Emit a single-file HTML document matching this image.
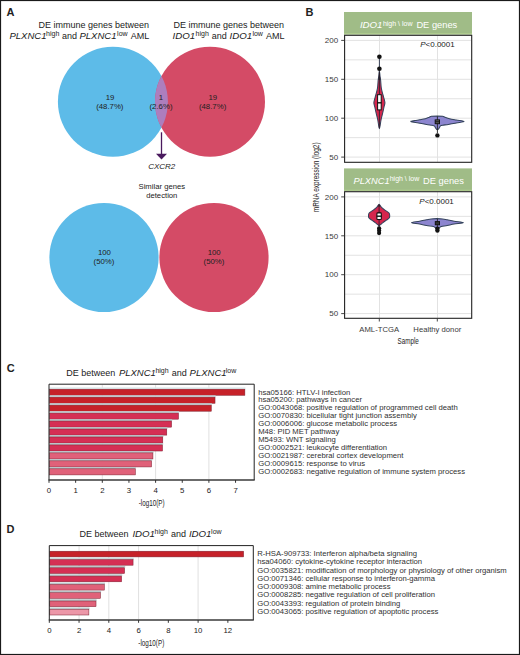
<!DOCTYPE html>
<html><head><meta charset="utf-8">
<style>
html,body{margin:0;padding:0;background:#fff;}
body{width:520px;height:655px;overflow:hidden;}
svg{display:block;font-family:"Liberation Sans",sans-serif;}
.t{fill:#222;}
.g{fill:#3a3a3a;}
.i{font-style:italic;}
.b{font-weight:bold;}
</style></head><body>
<svg width="520" height="655" viewBox="0 0 520 655">
<defs>
<clipPath id="cb1"><circle cx="112.9" cy="101.8" r="55"/></clipPath>
</defs>
<rect x="0" y="0" width="520" height="655" fill="#fff"/>
<!-- ============ PANEL A ============ -->
<text x="6.5" y="16.2" class="t b" font-size="11">A</text>
<g class="t" font-size="9">
  <text x="149" y="27.5" text-anchor="end">DE immune genes between</text>
  <text y="38.6"><tspan x="9.5" class="i" font-size="9.5">PLXNC1</tspan><tspan x="46.1" y="35.7" font-size="7">high</tspan><tspan x="62.1" y="38.6">and</tspan><tspan x="79.5" class="i" font-size="9.5">PLXNC1</tspan><tspan x="117.1" y="35.7" font-size="7">low</tspan><tspan x="130.8" y="38.6">AML</tspan></text>
  <text x="173.5" y="27.5">DE immune genes between</text>
  <text y="38.6"><tspan x="172.6" class="i" font-size="9.7">IDO1</tspan><tspan x="195.6" y="35.7" font-size="7">high</tspan><tspan x="211.7" y="38.6">and</tspan><tspan x="229.5" class="i" font-size="9.7">IDO1</tspan><tspan x="252.4" y="35.7" font-size="7">low</tspan><tspan x="266" y="38.6">AML</tspan></text>
</g>
<circle cx="112.9" cy="101.8" r="55" fill="#5dbbe8"/>
<circle cx="210" cy="101.8" r="55" fill="#d44b66"/>
<circle cx="210" cy="101.8" r="55" fill="#ad7ebd" clip-path="url(#cb1)"/>
<g class="t" font-size="7.8" text-anchor="middle">
  <text x="110" y="99.6">19</text><text x="109.8" y="108.8">(48.7%)</text>
  <text x="161" y="99.6">1</text><text x="161" y="108.8">(2.6%)</text>
  <text x="212.8" y="99.6">19</text><text x="212.6" y="108.8">(48.7%)</text>
</g>
<line x1="161.5" y1="132.3" x2="161.5" y2="155" stroke="#4a1a5e" stroke-width="1.3"/>
<polygon points="156,153.8 167,153.8 161.5,159.4" fill="#4a1a5e"/>
<text x="161.7" y="169.2" class="t i" font-size="8" text-anchor="middle">CXCR2</text>
<g class="t" font-size="7.7" text-anchor="middle">
  <text x="161.8" y="188.5">Similar genes</text>
  <text x="161.8" y="197.9">detection</text>
</g>
<circle cx="104" cy="257.5" r="54.6" fill="#5dbbe8"/>
<circle cx="214" cy="257.5" r="54.6" fill="#d44b66"/>
<g class="t" font-size="7.8" text-anchor="middle">
  <text x="104.4" y="254.8">100</text><text x="104" y="264.3">(50%)</text>
  <text x="214.2" y="254.8">100</text><text x="214" y="264.3">(50%)</text>
</g>

<!-- ============ PANEL B ============ -->
<text x="305.5" y="16.3" class="t b" font-size="11">B</text>
<!-- strip 1 -->
<rect x="344" y="12" width="128" height="22.6" fill="#a0bc87"/><rect x="344" y="33.1" width="128" height="1" fill="#b0cc8e"/>
<text y="28.4" fill="#fff" font-size="9.3"><tspan x="359.9" class="i" font-size="9.7">IDO1</tspan><tspan x="382.9" y="25.5" font-size="7">high \ low</tspan><tspan x="416.4" y="28.4">DE genes</tspan></text>
<!-- panel 1 -->
<g stroke="#e2e2e2" stroke-width="1">
  <line x1="345" x2="471" y1="40.4" y2="40.4"/><line x1="345" x2="471" y1="59.85" y2="59.85"/>
  <line x1="345" x2="471" y1="79.3" y2="79.3"/><line x1="345" x2="471" y1="98.75" y2="98.75"/>
  <line x1="345" x2="471" y1="118.2" y2="118.2"/><line x1="345" x2="471" y1="137.65" y2="137.65"/>
  <line x1="345" x2="471" y1="157.1" y2="157.1"/>
  <line x1="379.5" x2="379.5" y1="35.5" y2="162"/><line x1="437.5" x2="437.5" y1="35.5" y2="162"/>
</g>
<rect x="344.6" y="35.3" width="127.1" height="127" fill="none" stroke="#222" stroke-width="1.1"/>
<g stroke="#333" stroke-width="0.9">
  <line x1="341.2" x2="344" y1="40.4" y2="40.4"/><line x1="341.2" x2="344" y1="79.3" y2="79.3"/>
  <line x1="341.2" x2="344" y1="118.2" y2="118.2"/><line x1="341.2" x2="344" y1="157.1" y2="157.1"/>
</g>
<g class="g" font-size="8" text-anchor="end">
  <text x="338.2" y="43.1">200</text><text x="338.2" y="82">150</text><text x="338.2" y="120.9">100</text><text x="338.2" y="159.8">50</text>
</g>
<text x="420.2" y="47.3" class="t" font-size="8"><tspan class="i">P</tspan>&lt;0.0001</text>
<!-- red violin 1 -->
<line x1="379.4" y1="57" x2="379.4" y2="72" stroke="#3a4258" stroke-width="1"/>
<path d="M379.4,70.5 C379.6,70.5 379.8,74.42 380,76 C380.2,77.58 380.38,77.97 380.6,80 C380.82,82.03 380.9,85.7 381.3,88.2 C381.7,90.7 382.4,92.65 383,95 C383.6,97.35 384.73,100.3 384.9,102.3 C385.07,104.3 384.38,105.15 384,107 C383.62,108.85 383.1,111.23 382.6,113.4 C382.1,115.57 381.53,117.47 381,120 C380.47,122.53 379.93,128.6 379.4,128.6 C378.87,128.6 378.33,122.53 377.8,120 C377.27,117.47 376.7,115.57 376.2,113.4 C375.7,111.23 375.18,108.85 374.8,107 C374.42,105.15 373.73,104.3 373.9,102.3 C374.07,100.3 375.2,97.35 375.8,95 C376.4,92.65 377.1,90.7 377.5,88.2 C377.9,85.7 377.98,82.03 378.2,80 C378.42,77.97 378.6,77.58 378.8,76 C379,74.42 379.2,70.5 379.4,70.5 Z" fill="#d6264d" stroke="#34435c" stroke-width="1.05"/>
<path d="M379.4,70.5 L380.29999999999995,80 L378.5,80 Z" fill="#222"/>
<line x1="379.4" y1="72" x2="379.4" y2="128.3" stroke="#2a1f2c" stroke-width="0.9"/>
<rect x="377.6" y="94.7" width="3.6" height="15.2" fill="#fff" stroke="#111" stroke-width="1"/>
<line x1="377.4" x2="381.4" y1="102.8" y2="102.8" stroke="#111" stroke-width="1.4"/>
<circle cx="379.4" cy="56.8" r="2.3" fill="#111"/><circle cx="379.4" cy="68.8" r="2.3" fill="#111"/>
<path d="M410.9,121.5 C410.33,121.12 413.57,120.88 415,120.6 C416.43,120.32 417.78,120.12 419.5,119.8 C421.22,119.48 423.67,119.13 425.3,118.7 C426.93,118.27 428.27,117.6 429.3,117.2 C430.33,116.8 430.15,116.48 431.5,116.3 C432.85,116.12 435.55,116.1 437.4,116.1 C439.25,116.1 441.35,116.12 442.6,116.3 C443.85,116.48 443.75,116.8 444.9,117.2 C446.05,117.6 447.58,118.22 449.5,118.7 C451.42,119.18 453.98,119.63 456.4,120.1 C458.82,120.57 464,121.03 464,121.5 C464,121.97 459,122.42 456.4,122.9 C453.8,123.38 450.7,124.02 448.4,124.4 C446.1,124.78 443.93,124.95 442.6,125.2 C441.27,125.45 440.9,125.55 440.4,125.9 C439.9,126.25 439.9,126.8 439.6,127.3 C439.3,127.8 438.97,128.52 438.6,128.9 C438.23,129.28 437.8,129.6 437.4,129.6 C437,129.6 436.57,129.28 436.2,128.9 C435.83,128.52 435.5,127.8 435.2,127.3 C434.9,126.8 434.9,126.23 434.4,125.9 C433.9,125.57 433.52,125.55 432.2,125.3 C430.88,125.05 428.8,124.8 426.5,124.4 C424.2,124 421,123.38 418.4,122.9 C415.8,122.42 411.47,121.88 410.9,121.5 Z" fill="#8c85cf" stroke="#34435c" stroke-width="1.05"/>
<line x1="437.4" y1="116.4" x2="437.4" y2="133" stroke="#222" stroke-width="0.9"/>
<rect x="435.2" y="119.9" width="4.3" height="3.8" fill="#666" stroke="#111" stroke-width="1"/>
<line x1="435.2" x2="439.5" y1="121.8" y2="121.8" stroke="#111" stroke-width="1"/>
<circle cx="437.4" cy="135.4" r="2.2" fill="#111"/>
<!-- strip 2 -->
<rect x="344" y="168.4" width="128" height="22.7" fill="#a0bc87"/><rect x="344" y="189.7" width="128" height="1" fill="#b0cc8e"/>
<text y="184.3" fill="#fff" font-size="9.3"><tspan x="353.5" class="i">PLXNC1</tspan><tspan x="389.7" y="181.2" font-size="7">high \ low</tspan><tspan x="423.1" y="184.3">DE genes</tspan></text>
<!-- panel 2 -->
<g stroke="#e2e2e2" stroke-width="1">
  <line x1="345" x2="471" y1="196.9" y2="196.9"/><line x1="345" x2="471" y1="216.35" y2="216.35"/>
  <line x1="345" x2="471" y1="235.8" y2="235.8"/><line x1="345" x2="471" y1="255.25" y2="255.25"/>
  <line x1="345" x2="471" y1="274.7" y2="274.7"/><line x1="345" x2="471" y1="294.15" y2="294.15"/>
  <line x1="345" x2="471" y1="313.6" y2="313.6"/>
  <line x1="379.5" x2="379.5" y1="192" y2="318"/><line x1="437.5" x2="437.5" y1="192" y2="318"/>
</g>
<rect x="344.6" y="191.7" width="127.1" height="126.6" fill="none" stroke="#222" stroke-width="1.1"/>
<g stroke="#333" stroke-width="0.9">
  <line x1="341.2" x2="344" y1="196.9" y2="196.9"/><line x1="341.2" x2="344" y1="235.8" y2="235.8"/>
  <line x1="341.2" x2="344" y1="274.7" y2="274.7"/><line x1="341.2" x2="344" y1="313.6" y2="313.6"/>
  <line x1="379.3" x2="379.3" y1="318.5" y2="321.5"/><line x1="437.3" x2="437.3" y1="318.5" y2="321.5"/>
</g>
<g class="g" font-size="8" text-anchor="end">
  <text x="338.2" y="199.6">200</text><text x="338.2" y="238.5">150</text><text x="338.2" y="277.4">100</text><text x="338.2" y="316.3">50</text>
</g>
<text x="419.3" y="204.4" class="t" font-size="8"><tspan class="i">P</tspan>&lt;0.0001</text>
<!-- red violin 2 -->
<path d="M379.1,204.3 C379.83,204.3 380.45,206.32 381.3,207.2 C382.15,208.08 383.17,208.83 384.2,209.6 C385.23,210.37 386.65,211.17 387.5,211.8 C388.35,212.43 388.93,212.73 389.3,213.4 C389.67,214.07 389.72,215.03 389.7,215.8 C389.68,216.57 389.77,217.27 389.2,218 C388.63,218.73 387.33,219.43 386.3,220.2 C385.27,220.97 383.98,221.85 383,222.6 C382.02,223.35 381.05,224.18 380.4,224.7 C379.75,225.22 379.53,225.7 379.1,225.7 C378.67,225.7 378.45,225.22 377.8,224.7 C377.15,224.18 376.18,223.35 375.2,222.6 C374.22,221.85 372.93,220.97 371.9,220.2 C370.87,219.43 369.57,218.73 369,218 C368.43,217.27 368.52,216.57 368.5,215.8 C368.48,215.03 368.53,214.07 368.9,213.4 C369.27,212.73 369.85,212.43 370.7,211.8 C371.55,211.17 372.97,210.37 374,209.6 C375.03,208.83 376.05,208.08 376.9,207.2 C377.75,206.32 378.37,204.3 379.1,204.3 Z" fill="#d6264d" stroke="#34435c" stroke-width="1.05"/>
<path d="M379.1,204.3 L380.3,206.5 L377.90000000000003,206.5 Z" fill="#222"/>
<line x1="379.1" y1="205" x2="379.1" y2="231" stroke="#2a1f2c" stroke-width="0.9"/>
<rect x="376.9" y="212.9" width="4.4" height="6.6" rx="0.8" fill="#fff" stroke="#111" stroke-width="1.1"/>
<line x1="376.7" x2="381.5" y1="216.2" y2="216.2" stroke="#111" stroke-width="1.4"/>
<circle cx="379.1" cy="228.3" r="2.1" fill="#111"/>
<circle cx="379.1" cy="230.6" r="2.1" fill="#111"/>
<circle cx="379.1" cy="233.1" r="2.1" fill="#111"/>
<path d="M411.5,222.7 C411.5,222.23 417,221.78 419.5,221.3 C422,220.82 424.57,220.2 426.5,219.8 C428.43,219.4 429.38,219.1 431.1,218.9 C432.82,218.7 434.88,218.6 436.8,218.6 C438.72,218.6 440.87,218.7 442.6,218.9 C444.33,219.1 445.28,219.4 447.2,219.8 C449.12,220.2 451.4,220.82 454.1,221.3 C456.8,221.78 463.4,222.23 463.4,222.7 C463.4,223.17 456.8,223.62 454.1,224.1 C451.4,224.58 449.32,225.18 447.2,225.6 C445.08,226.02 442.72,226.23 441.4,226.6 C440.08,226.97 439.97,227.43 439.3,227.8 C438.63,228.17 438.03,228.8 437.4,228.8 C436.77,228.8 436.17,228.2 435.5,227.8 C434.83,227.4 434.9,226.77 433.4,226.4 C431.9,226.03 428.82,225.98 426.5,225.6 C424.18,225.22 422,224.58 419.5,224.1 C417,223.62 411.5,223.17 411.5,222.7 Z" fill="#8c85cf" stroke="#34435c" stroke-width="1.05"/>
<line x1="437.4" y1="218.8" x2="437.4" y2="229" stroke="#222" stroke-width="0.9"/>
<rect x="435.3" y="221.6" width="4.2" height="3.2" fill="#333" stroke="#111" stroke-width="1"/>
<circle cx="437.4" cy="228.6" r="2.2" fill="#111"/>
<circle cx="437.4" cy="230.6" r="2.2" fill="#111"/>
<!-- axis labels -->
<g class="g" font-size="7.7" text-anchor="middle">
  <text x="379.2" y="331.7">AML-TCGA</text><text x="437.3" y="331.7">Healthy donor</text>
</g>
<text x="0" y="0" class="t" font-size="9.5" text-anchor="middle" transform="translate(408.2 344.3) scale(0.66 1)">Sample</text>
<text x="0" y="0" class="t" font-size="9.2" text-anchor="middle" transform="translate(318.9 177.3) rotate(-90) scale(0.70 1)">mRNA expression (log2)</text>

<!-- ============ PANEL C ============ -->
<text x="6.8" y="372" class="t b" font-size="11">C</text>
<text y="375.8" class="t" font-size="9"><tspan x="66.3">DE between</tspan><tspan x="118.9" class="i" font-size="9.5">PLXNC1</tspan><tspan x="155.4" y="372.8" font-size="7">high</tspan><tspan x="171.8" y="375.8">and</tspan><tspan x="189.6" class="i" font-size="9.5">PLXNC1</tspan><tspan x="225.8" y="372.8" font-size="7">low</tspan></text>
<g><line x1="102.3" x2="102.3" y1="384.7" y2="479.3" stroke="#dcdcdc" stroke-width="0.9"/>
<line x1="155.6" x2="155.6" y1="384.7" y2="479.3" stroke="#dcdcdc" stroke-width="0.9"/>
<line x1="208.9" x2="208.9" y1="384.7" y2="479.3" stroke="#dcdcdc" stroke-width="0.9"/>
<rect x="49.5" y="387.4" width="195.98" height="1.8" fill="#dce8ea"/>
<rect x="49.5" y="389.2" width="195.38" height="6.1" fill="#c62129" stroke="#7a2030" stroke-width="0.5"/>
<rect x="49.5" y="395.36" width="166.13" height="1.8" fill="#c9dadd"/>
<rect x="49.5" y="397.16" width="165.53" height="6.1" fill="#c62129" stroke="#7a2030" stroke-width="0.5"/>
<rect x="49.5" y="403.32" width="162.4" height="1.8" fill="#c9dadd"/>
<rect x="49.5" y="405.12" width="161.8" height="6.1" fill="#c62129" stroke="#7a2030" stroke-width="0.5"/>
<rect x="49.5" y="411.28" width="129.62" height="1.8" fill="#c9dadd"/>
<rect x="49.5" y="413.08" width="129.02" height="6.1" fill="#d52f54" stroke="#7a2030" stroke-width="0.5"/>
<rect x="49.5" y="419.24" width="122.69" height="1.8" fill="#bac6ca"/>
<rect x="49.5" y="421.04" width="122.09" height="6.1" fill="#d52f54" stroke="#7a2030" stroke-width="0.5"/>
<rect x="49.5" y="427.2" width="117.89" height="1.8" fill="#bac6ca"/>
<rect x="49.5" y="429" width="117.29" height="6.1" fill="#d52f54" stroke="#7a2030" stroke-width="0.5"/>
<rect x="49.5" y="435.16" width="113.9" height="1.8" fill="#bac6ca"/>
<rect x="49.5" y="436.96" width="113.3" height="6.1" fill="#d52f54" stroke="#7a2030" stroke-width="0.5"/>
<rect x="49.5" y="443.12" width="113.63" height="1.8" fill="#bac6ca"/>
<rect x="49.5" y="444.92" width="113.03" height="6.1" fill="#d52f54" stroke="#7a2030" stroke-width="0.5"/>
<rect x="49.5" y="451.08" width="104.03" height="1.8" fill="#bac6ca"/>
<rect x="49.5" y="452.88" width="103.44" height="6.1" fill="#e06179" stroke="#7a2030" stroke-width="0.5"/>
<rect x="49.5" y="459.04" width="102.7" height="1.8" fill="#bac6ca"/>
<rect x="49.5" y="460.84" width="102.1" height="6.1" fill="#e06179" stroke="#7a2030" stroke-width="0.5"/>
<rect x="49.5" y="467" width="86.45" height="1.8" fill="#bac6ca"/>
<rect x="49.5" y="468.8" width="85.85" height="6.1" fill="#e06179" stroke="#7a2030" stroke-width="0.5"/>
<path d="M49,480 V384.2 H254.2 V480" fill="none" stroke="#222" stroke-width="1"/>
<line x1="48.5" x2="254.7" y1="480" y2="480" stroke="#3a3a3a" stroke-width="1.5"/>
<line x1="49" x2="49" y1="480" y2="482.8" stroke="#333" stroke-width="1"/>
<text x="49" y="493" class="t" font-size="7.8" text-anchor="middle">0</text>
<line x1="75.65" x2="75.65" y1="480" y2="482.8" stroke="#333" stroke-width="1"/>
<text x="75.65" y="493" class="t" font-size="7.8" text-anchor="middle">1</text>
<line x1="102.3" x2="102.3" y1="480" y2="482.8" stroke="#333" stroke-width="1"/>
<text x="102.3" y="493" class="t" font-size="7.8" text-anchor="middle">2</text>
<line x1="128.95" x2="128.95" y1="480" y2="482.8" stroke="#333" stroke-width="1"/>
<text x="128.95" y="493" class="t" font-size="7.8" text-anchor="middle">3</text>
<line x1="155.6" x2="155.6" y1="480" y2="482.8" stroke="#333" stroke-width="1"/>
<text x="155.6" y="493" class="t" font-size="7.8" text-anchor="middle">4</text>
<line x1="182.25" x2="182.25" y1="480" y2="482.8" stroke="#333" stroke-width="1"/>
<text x="182.25" y="493" class="t" font-size="7.8" text-anchor="middle">5</text>
<line x1="208.9" x2="208.9" y1="480" y2="482.8" stroke="#333" stroke-width="1"/>
<text x="208.9" y="493" class="t" font-size="7.8" text-anchor="middle">6</text>
<line x1="235.55" x2="235.55" y1="480" y2="482.8" stroke="#333" stroke-width="1"/>
<text x="235.55" y="493" class="t" font-size="7.8" text-anchor="middle">7</text>
<text x="0" y="0" class="t" font-size="9" text-anchor="middle" transform="translate(151.6 505.8) scale(0.7 1)">-log10(P)</text>
<text x="258.2" y="394.5" fill="#303030" font-size="7.7">hsa05166: HTLV-I infection</text>
<text x="258.2" y="402.46" fill="#303030" font-size="7.7">hsa05200: pathways in cancer</text>
<text x="258.2" y="410.42" fill="#303030" font-size="7.7">GO:0043068: positive regulation of programmed cell death</text>
<text x="258.2" y="418.38" fill="#303030" font-size="7.7">GO:0070830: bicellular tight junction assembly</text>
<text x="258.2" y="426.34" fill="#303030" font-size="7.7">GO:0006006: glucose metabolic process</text>
<text x="258.2" y="434.3" fill="#303030" font-size="7.7">M48: PID MET pathway</text>
<text x="258.2" y="442.26" fill="#303030" font-size="7.7">M5493: WNT signaling</text>
<text x="258.2" y="450.22" fill="#303030" font-size="7.7">GO:0002521: leukocyte differentiation</text>
<text x="258.2" y="458.18" fill="#303030" font-size="7.7">GO:0021987: cerebral cortex development</text>
<text x="258.2" y="466.14" fill="#303030" font-size="7.7">GO:0009615: response to virus</text>
<text x="258.2" y="474.1" fill="#303030" font-size="7.7">GO:0002683: negative regulation of immune system process</text></g>
<!-- ============ PANEL D ============ -->
<text x="6.5" y="533" class="t b" font-size="11">D</text>
<text y="536.7" class="t" font-size="9"><tspan x="79.4">DE between</tspan><tspan x="132.4" class="i" font-size="9.7">IDO1</tspan><tspan x="154.6" y="533.7" font-size="7">high</tspan><tspan x="171.1" y="536.7">and</tspan><tspan x="188.9" class="i" font-size="9.7">IDO1</tspan><tspan x="211.1" y="533.7" font-size="7">low</tspan></text>
<g><line x1="79.06" x2="79.06" y1="546.1" y2="619.3" stroke="#dcdcdc" stroke-width="0.9"/>
<line x1="108.82" x2="108.82" y1="546.1" y2="619.3" stroke="#dcdcdc" stroke-width="0.9"/>
<line x1="138.58" x2="138.58" y1="546.1" y2="619.3" stroke="#dcdcdc" stroke-width="0.9"/>
<line x1="198.1" x2="198.1" y1="546.1" y2="619.3" stroke="#dcdcdc" stroke-width="0.9"/>
<rect x="49.8" y="551.2" width="193.83" height="5.7" fill="#c62129" stroke="#7a2030" stroke-width="0.5"/>
<rect x="49.8" y="557.7" width="83.87" height="1.8" fill="#c9dadd"/>
<rect x="49.8" y="559.5" width="83.27" height="5.7" fill="#d52f54" stroke="#7a2030" stroke-width="0.5"/>
<rect x="49.8" y="566" width="75.39" height="1.8" fill="#bac6ca"/>
<rect x="49.8" y="567.8" width="74.79" height="5.7" fill="#d52f54" stroke="#7a2030" stroke-width="0.5"/>
<rect x="49.8" y="574.3" width="72.42" height="1.8" fill="#bac6ca"/>
<rect x="49.8" y="576.1" width="71.82" height="5.7" fill="#d52f54" stroke="#7a2030" stroke-width="0.5"/>
<rect x="49.8" y="582.6" width="55.16" height="1.8" fill="#bac6ca"/>
<rect x="49.8" y="584.4" width="54.56" height="5.7" fill="#e06179" stroke="#7a2030" stroke-width="0.5"/>
<rect x="49.8" y="590.9" width="51.29" height="1.8" fill="#bac6ca"/>
<rect x="49.8" y="592.7" width="50.69" height="5.7" fill="#e06179" stroke="#7a2030" stroke-width="0.5"/>
<rect x="49.8" y="599.2" width="46.82" height="1.8" fill="#bac6ca"/>
<rect x="49.8" y="601" width="46.22" height="5.7" fill="#e06179" stroke="#7a2030" stroke-width="0.5"/>
<rect x="49.8" y="607.5" width="39.68" height="1.8" fill="#bac6ca"/>
<rect x="49.8" y="609.3" width="39.08" height="5.7" fill="#ec97a8" stroke="#7a2030" stroke-width="0.5"/>
<path d="M49.3,620 V545.6 H253.3 V620" fill="none" stroke="#222" stroke-width="1"/>
<line x1="48.8" x2="253.8" y1="620" y2="620" stroke="#3a3a3a" stroke-width="1.5"/>
<line x1="49.3" x2="49.3" y1="620" y2="622.8" stroke="#333" stroke-width="1"/>
<text x="49.3" y="633" class="t" font-size="7.8" text-anchor="middle">0</text>
<line x1="79.06" x2="79.06" y1="620" y2="622.8" stroke="#333" stroke-width="1"/>
<text x="79.06" y="633" class="t" font-size="7.8" text-anchor="middle">2</text>
<line x1="108.82" x2="108.82" y1="620" y2="622.8" stroke="#333" stroke-width="1"/>
<text x="108.82" y="633" class="t" font-size="7.8" text-anchor="middle">4</text>
<line x1="138.58" x2="138.58" y1="620" y2="622.8" stroke="#333" stroke-width="1"/>
<text x="138.58" y="633" class="t" font-size="7.8" text-anchor="middle">6</text>
<line x1="168.34" x2="168.34" y1="620" y2="622.8" stroke="#333" stroke-width="1"/>
<text x="168.34" y="633" class="t" font-size="7.8" text-anchor="middle">8</text>
<line x1="198.1" x2="198.1" y1="620" y2="622.8" stroke="#333" stroke-width="1"/>
<text x="198.1" y="633" class="t" font-size="7.8" text-anchor="middle">10</text>
<line x1="227.86" x2="227.86" y1="620" y2="622.8" stroke="#333" stroke-width="1"/>
<text x="227.86" y="633" class="t" font-size="7.8" text-anchor="middle">12</text>
<text x="0" y="0" class="t" font-size="9" text-anchor="middle" transform="translate(151.3 646.3) scale(0.7 1)">-log10(P)</text>
<text x="257.2" y="556.1" fill="#303030" font-size="7.7">R-HSA-909733: Interferon alpha/beta signaling</text>
<text x="257.2" y="564.35" fill="#303030" font-size="7.7">hsa04060: cytokine-cytokine receptor interaction</text>
<text x="257.2" y="572.6" fill="#303030" font-size="7.7">GO:0035821: modification of morphology or physiology of other organism</text>
<text x="257.2" y="580.85" fill="#303030" font-size="7.7">GO:0071346: cellular response to interferon-gamma</text>
<text x="257.2" y="589.1" fill="#303030" font-size="7.7">GO:0009308: amine metabolic process</text>
<text x="257.2" y="597.35" fill="#303030" font-size="7.7">GO:0008285: negative regulation of cell proliferation</text>
<text x="257.2" y="605.6" fill="#303030" font-size="7.7">GO:0043393: regulation of protein binding</text>
<text x="257.2" y="613.85" fill="#303030" font-size="7.7">GO:0043065: positive regulation of apoptotic process</text></g>
<!-- border -->
<rect x="0.5" y="0.5" width="519" height="654" fill="none" stroke="#1a1a1a" stroke-width="1.2"/>
</svg>
</body></html>
